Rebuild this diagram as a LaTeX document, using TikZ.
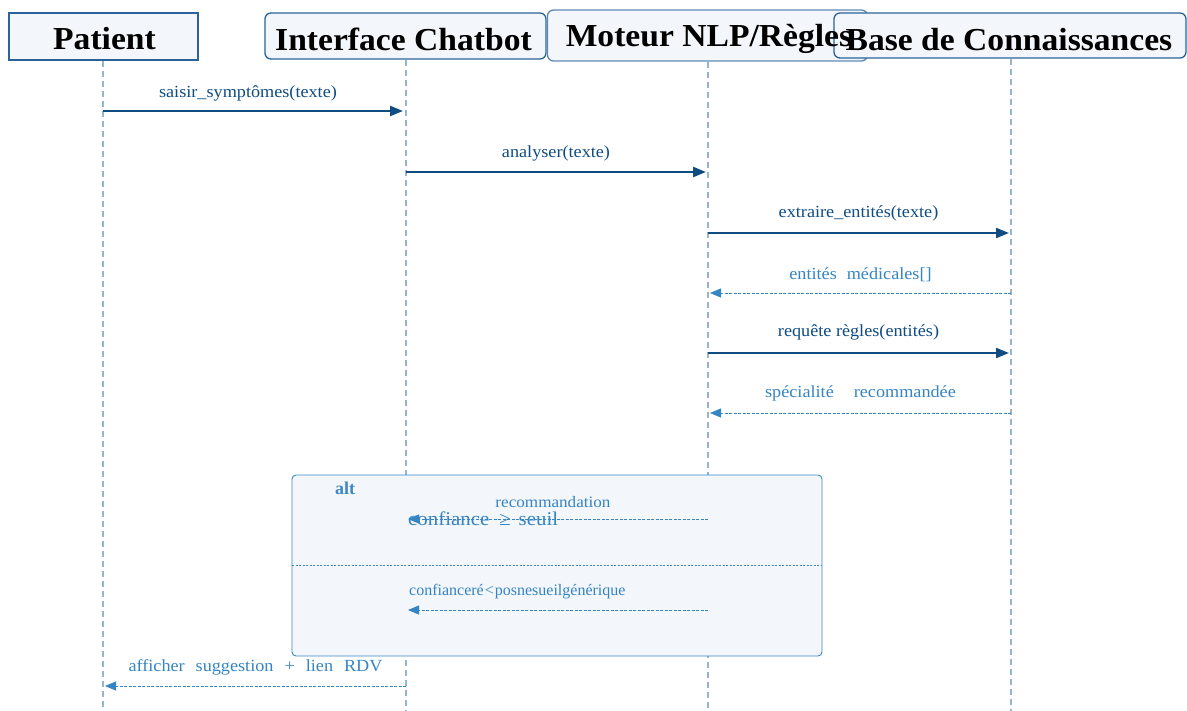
\documentclass[tikz,border=0pt]{standalone}
\usepackage{fontspec}
\setmainfont{Liberation Serif}
\newfontfamily\headfont[FakeStretch=1.05]{Liberation Serif}
\newfontfamily\labelfont[FakeStretch=1.07]{Liberation Serif}
\usetikzlibrary{arrows.meta}

\definecolor{boxfill}{HTML}{F3F6FA}
\definecolor{boxline}{HTML}{2A639A}
\definecolor{lifeln}{HTML}{95B4CF}
\definecolor{callc}{HTML}{0E4C82}
\definecolor{retc}{HTML}{3584C3}
\definecolor{altc}{HTML}{3D87C2}

\tikzset{
  actor/.style={draw=boxline, fill=boxfill, line width=1.3pt, inner sep=0pt,
    rounded corners=6pt},
  actortext/.style={inner sep=0pt, font=\headfont\bfseries\fontsize{32}{36}\selectfont, text=black},
  lifeline/.style={draw=lifeln, line width=1.4pt, dash pattern=on 6pt off 4pt},
  call/.style={draw=callc, line width=2.3pt, -{Triangle[length=13pt,width=10pt]}},
  ret/.style={draw=retc, line width=0.9pt, dash pattern=on 3pt off 1.5pt, -{Triangle[length=11pt,width=9pt]}},
  calllabel/.style={inner sep=0pt, text=callc, font=\labelfont\fontsize{17}{20}\selectfont},
  retlabel/.style={inner sep=0pt, text=retc, font=\labelfont\fontsize{17}{20}\selectfont},
}

\begin{document}
\begin{tikzpicture}[x=1pt,y=-1pt]
\useasboundingbox (0,0) rectangle (1187,711);

% actor boxes (drawn first so lifelines hang below them)
\node[actor, rounded corners=0pt, minimum width=189pt, minimum height=47pt] (P) at (103.5,36.5) {};
\node[actor, minimum width=281pt, minimum height=46pt] (I) at (405.5,36) {};
\node[actor, draw=boxline!75, minimum width=320pt, minimum height=51pt] (M) at (707.5,35.5) {};
\node[actor, minimum width=352pt, minimum height=45pt] (B) at (1010,35.5) {};

% lifelines
\coordinate (Pe) at (103,711);
\coordinate (Ie) at (406,711);
\coordinate (Me) at (708,711);
\coordinate (Be) at (1011,711);
\draw[lifeline] (P.south -| Pe) -- (Pe);
\draw[lifeline] (I.south -| Ie) -- (Ie);
\draw[lifeline] (M.south -| Me) -- (Me);
\draw[lifeline] (B.south -| Be) -- (Be);

% actor names
\node[actortext] (Pt) at (104.5,39) {Patient};
\node[actortext] (It) at (403.5,39) {Interface Chatbot};
\node[actortext] (Mt) at (709,39) {Moteur NLP/Règles};
\node[actortext] (Bt) at (1009,40) {Base de Connaissances};

% alt fragment
\node[draw=altc, fill=boxfill, line width=0.9pt, rounded corners=4pt,
      minimum width=530pt, minimum height=181pt, inner sep=0pt] (alt) at (557,565.5) {};
\coordinate (dl) at (292,565);
\coordinate (dr) at (822,565);
\draw[draw=altc, line width=0.7pt, dash pattern=on 2pt off 1.5pt] (dl) -- (dr);
\node[inner sep=0pt, text=altc, font=\bfseries\fontsize{18}{20}\selectfont] (altlbl) at (345,488) {alt};

% messages
\coordinate (y1) at (0,111);
\coordinate (y2) at (0,172);
\coordinate (y3) at (0,233);
\coordinate (y4) at (0,293);
\coordinate (y5) at (0,353);
\coordinate (y6) at (0,413);
\coordinate (y7) at (0,519);
\coordinate (y8) at (0,610);
\coordinate (y9) at (0,686);

\draw[call] (Pe |- y1) -- ([xshift=-3pt]Ie |- y1)
  node[calllabel, midway, yshift=18pt, xshift=-5pt] (m1) {saisir\_symptômes(texte)};
\draw[call] (Ie |- y2) -- ([xshift=-2pt]Me |- y2)
  node[calllabel, midway, yshift=19pt] (m2) {analyser(texte)};
\draw[call] (Me |- y3) -- ([xshift=-2pt]Be |- y3)
  node[calllabel, midway, yshift=20pt] (m3) {extraire\_entités(texte)};
\draw[ret] (Be |- y4) -- ([xshift=2pt]Me |- y4)
  node[retlabel, midway, yshift=18pt] (m4) {entités\hspace{10pt}médicales[]};
\draw[call] (Me |- y5) -- ([xshift=-2pt]Be |- y5)
  node[calllabel, midway, yshift=21pt] (m5) {requête règles(entités)};
\draw[ret] (Be |- y6) -- ([xshift=2pt]Me |- y6)
  node[retlabel, midway, yshift=20pt] (m6) {spécialité\hspace{20pt}recommandée};

\draw[ret] (Me |- y7) -- ([xshift=2pt]Ie |- y7);
\node[retlabel, font=\labelfont\fontsize{16}{18}\selectfont] (r1) at (553,502) {recommandation};
\node[retlabel, anchor=west, font=\labelfont\fontsize{19.5}{22}\selectfont] (r2) at (408,519) {confiance\hspace{10pt}≥\hspace{8pt}seuil};
\draw[ret] (Me |- y8) -- ([xshift=2pt]Ie |- y8);
\node[retlabel, anchor=west, font=\fontsize{16}{18}\selectfont] (r3) at (409,592) {confianceré\kern1pt<\kern1ptposnesueilgénérique};

\draw[ret] (Ie |- y9) -- ([xshift=2pt]Pe |- y9)
  node[retlabel, midway, yshift=19pt] (m7) {afficher\hspace{11pt}suggestion\hspace{11pt}+\hspace{11pt}lien\hspace{11pt}RDV};
\end{tikzpicture}
\end{document}
